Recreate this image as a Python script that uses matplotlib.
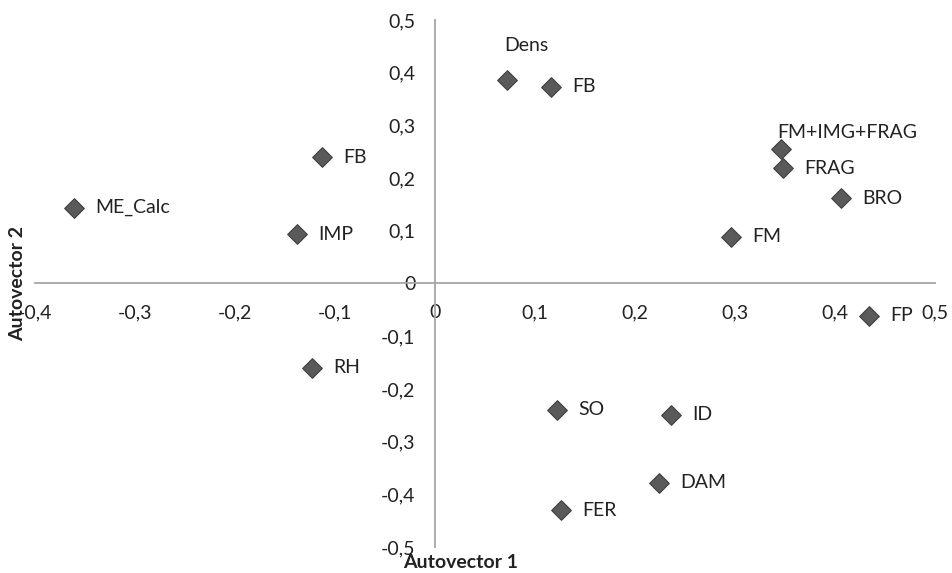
import matplotlib.pyplot as plt
from matplotlib.ticker import FuncFormatter, MultipleLocator

# loadings
labels = ['Dens', 'FB', 'FM+IMG+FRAG', 'FRAG', 'BRO', 'FM', 'FP',
          'FB', 'ME_Calc', 'IMP', 'RH', 'SO', 'ID', 'DAM', 'FER']
autovector1 = [0.072, 0.116, 0.346, 0.348, 0.406, 0.296, 0.434,
               -0.113, -0.361, -0.138, -0.123, 0.122, 0.236, 0.224, 0.126]
autovector2 = [0.386, 0.373, 0.255, 0.219, 0.162, 0.089, -0.061,
               0.240, 0.144, 0.093, -0.160, -0.240, -0.249, -0.378, -0.430]

# label placement (offset points), default is to the right of the marker
label_offsets = {0: (-2, 25), 2: (-3, 12)}

font = 'Lato'
plt.rcParams['font.family'] = [font, 'DejaVu Sans']
fs = 14

fig = plt.figure(figsize=(9.52, 5.73), dpi=100)
ax = fig.add_axes([0.0368, 0.0454, 0.9454, 0.9197])

ax.scatter(autovector1, autovector2, marker='D', s=100, color='#5a5a5a',
           edgecolor='#3f3f3f', linewidth=0.8, zorder=3)

for i, (lab, x, y) in enumerate(zip(labels, autovector1, autovector2)):
    dx, dy = label_offsets.get(i, (15, 0))
    ax.annotate(lab, (x, y), xytext=(dx, dy), textcoords='offset points',
                ha='left', va='center', fontsize=fs, color='#222222')

ax.set_xlim(-0.4, 0.5)
ax.set_ylim(-0.5, 0.5)

for side in ['top', 'right']:
    ax.spines[side].set_visible(False)
ax.spines['left'].set_position(('data', 0))
ax.spines['bottom'].set_position(('data', 0))
for side in ['left', 'bottom']:
    ax.spines[side].set_color('#a6a6a6')
    ax.spines[side].set_linewidth(1.3)

ax.xaxis.set_major_locator(MultipleLocator(0.1))
ax.yaxis.set_major_locator(MultipleLocator(0.1))
fmt = FuncFormatter(lambda v, p: '0' if abs(v) < 1e-9 else f'{v:.1f}'.replace('.', ','))
ax.xaxis.set_major_formatter(fmt)
ax.yaxis.set_major_formatter(fmt)
ax.tick_params(axis='both', length=0, labelsize=fs, labelcolor='#222222')
ax.tick_params(axis='x', pad=15)
ax.tick_params(axis='y', pad=14)

fig.text(0.484, 0.019, 'Autovector 1', ha='center', va='center',
         fontsize=fs, fontweight='bold', color='#222222')
fig.text(0.019, 0.505, 'Autovector 2', ha='center', va='center', rotation=90,
         fontsize=fs, fontweight='bold', color='#222222')

fig.savefig('out.png', dpi=100)
